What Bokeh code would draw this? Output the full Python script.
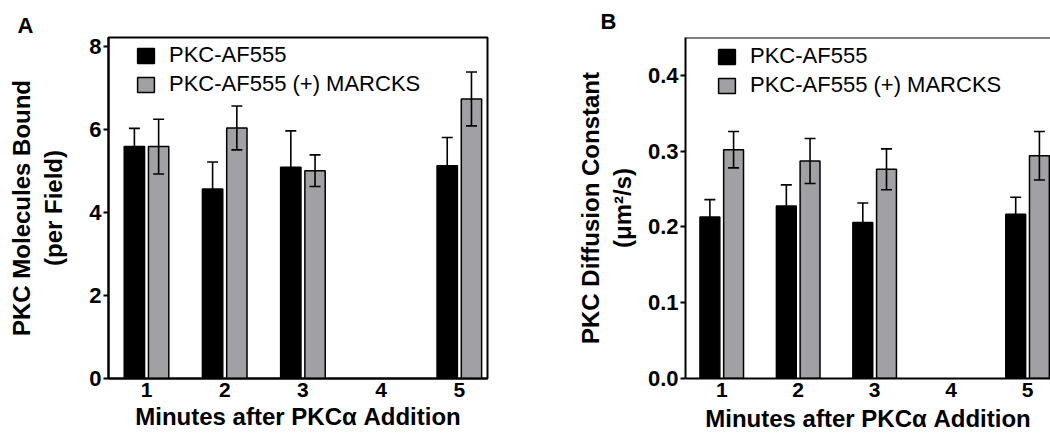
from bokeh.plotting import figure
from bokeh.models import (ColumnDataSource, Whisker, FixedTicker, Legend, LegendItem,
                          Span, Range1d, TeeHead)
from bokeh.layouts import row
from bokeh.transform import dodge
from bokeh.embed import file_html
from bokeh.resources import INLINE

# ---------------- data ----------------
minutes = [1, 2, 3, 5]
x_ticks = [1, 2, 3, 4, 5]
x_tick_labels = ["1", "2", "3", "4", "5"]
series_names = ["PKC-AF555", "PKC-AF555 (+) MARCKS"]
x_title = "Minutes after PKC\u03b1 Addition"

bound_pkc = [5.59, 4.57, 5.09, 5.13]
bound_pkc_err = [0.44, 0.65, 0.88, 0.68]
bound_marcks = [5.59, 6.04, 5.01, 6.74]
bound_marcks_err = [0.66, 0.53, 0.38, 0.65]
bound_ticks = [0, 2, 4, 6, 8]
bound_tick_labels = ["0", "2", "4", "6", "8"]
bound_title = "PKC Molecules Bound\n(per Field)"

diff_pkc = [0.213, 0.2275, 0.206, 0.2166]
diff_pkc_err = [0.023, 0.028, 0.0255, 0.0225]
diff_marcks = [0.302, 0.287, 0.276, 0.294]
diff_marcks_err = [0.024, 0.0297, 0.027, 0.032]
diff_ticks = [0, 0.1, 0.2, 0.3, 0.4]
diff_tick_labels = ["0.0", "0.1", "0.2", "0.3", "0.4"]
diff_title = "PKC Diffusion Constant\n(\u03bcm\u00b2/s)"

FONT = "Liberation Sans"
GRAY = "#a0a0a5"
HEIGHT = 441


def make_panel(letter, pkc, pkc_err, mar, mar_err, yticks, ytick_labels, ytitle,
               xr, yr, width, mbl, mbr, mbt, mbb, legend_loc, letter_offset,
               letter_standoff, full_box, ylabel_standoff, xlabel_standoff):
    src = ColumnDataSource(dict(
        x=minutes, pkc=pkc, mar=mar,
        pkc_hi=[v + e for v, e in zip(pkc, pkc_err)],
        pkc_lo=[v - e for v, e in zip(pkc, pkc_err)],
        mar_hi=[v + e for v, e in zip(mar, mar_err)],
        mar_lo=[v - e for v, e in zip(mar, mar_err)],
    ))
    p = figure(width=width, height=HEIGHT, output_backend="svg", toolbar_location=None,
               x_range=Range1d(*xr), y_range=Range1d(*yr),
               min_border_left=mbl, min_border_right=mbr,
               min_border_top=mbt, min_border_bottom=mbb, title=letter)
    p.title.align = "left"
    p.title.offset = letter_offset
    p.title.standoff = letter_standoff
    p.title.text_font = FONT
    p.title.text_font_style = "bold"
    p.title.text_font_size = "22px"
    p.title.text_color = "black"

    p.xgrid.visible = False
    p.ygrid.visible = False
    p.background_fill_color = "white"
    p.border_fill_color = "white"
    if full_box:
        p.outline_line_color = "black"
        p.outline_line_width = 2
        p.outline_line_alpha = 1
    else:
        p.outline_line_color = None
        p.add_layout(Span(location=yr[1], dimension="width", line_color="black",
                          line_width=2))

    r1 = p.vbar(x=dodge("x", -0.155, range=p.x_range), top="pkc", width=0.26,
                fill_color="black", line_color="black", line_width=1.5, source=src)
    r2 = p.vbar(x=dodge("x", 0.155, range=p.x_range), top="mar", width=0.26,
                fill_color=GRAY, line_color="black", line_width=1.5, source=src)

    for off, hi, lo in [(-0.155, "pkc_hi", "pkc_lo"), (0.155, "mar_hi", "mar_lo")]:
        w = Whisker(base=dodge("x", off, range=p.x_range), upper=hi, lower=lo,
                    source=src, line_color="black", line_width=1.6, level="overlay",
                    upper_head=TeeHead(size=11, line_width=1.6, line_color="black"),
                    lower_head=TeeHead(size=11, line_width=1.6, line_color="black"))
        p.add_layout(w)

    xa = p.xaxis[0]
    xa.ticker = FixedTicker(ticks=x_ticks)
    xa.major_label_overrides = {t: l for t, l in zip(x_ticks, x_tick_labels)}
    xa.axis_line_width = 2
    xa.axis_line_color = "black"
    xa.major_tick_line_color = None
    xa.major_tick_out = 0
    xa.major_tick_in = 0
    xa.minor_tick_line_color = None
    xa.minor_tick_out = 0
    xa.major_label_text_font = FONT
    xa.major_label_text_font_style = "bold"
    xa.major_label_text_font_size = "21px"
    xa.major_label_text_color = "black"
    xa.major_label_standoff = 4
    xa.axis_label = x_title
    xa.axis_label_text_font = FONT
    xa.axis_label_text_font_style = "bold"
    xa.axis_label_text_font_size = "24px"
    xa.axis_label_text_color = "black"
    xa.axis_label_standoff = xlabel_standoff

    ya = p.yaxis[0]
    ya.ticker = FixedTicker(ticks=yticks)
    ya.major_label_overrides = {t: l for t, l in zip(yticks, ytick_labels)}
    ya.axis_line_width = 2
    ya.axis_line_color = "black"
    ya.major_tick_out = 5
    ya.major_tick_in = 0
    ya.major_tick_line_width = 2
    ya.major_tick_line_color = "black"
    ya.minor_tick_line_color = None
    ya.minor_tick_out = 0
    ya.major_label_text_font = FONT
    ya.major_label_text_font_style = "bold"
    ya.major_label_text_font_size = "22px"
    ya.major_label_text_color = "black"
    ya.major_label_standoff = 2
    ya.axis_label = ytitle
    ya.axis_label_text_font = FONT
    ya.axis_label_text_font_style = "bold"
    ya.axis_label_text_font_size = "24px"
    ya.axis_label_text_color = "black"
    ya.axis_label_standoff = ylabel_standoff

    legend = Legend(items=[LegendItem(label=series_names[0], renderers=[r1]),
                           LegendItem(label=series_names[1], renderers=[r2])],
                    location=legend_loc, orientation="vertical", padding=0, margin=0,
                    spacing=3, glyph_width=21, glyph_height=19, label_height=19,
                    label_standoff=13, label_text_font=FONT,
                    label_text_font_size="22px", label_text_color="black",
                    border_line_color=None, background_fill_alpha=0)
    p.add_layout(legend)
    return p


pA = make_panel("A", bound_pkc, bound_pkc_err, bound_marcks, bound_marcks_err,
                bound_ticks, bound_tick_labels, bound_title,
                (0.514, 5.36), (0, 8.22), 540, 108, 53, 37, 61,
                (27, 281), -91, 0, True, 19, 3)
pB = make_panel("B", diff_pkc, diff_pkc_err, diff_marcks, diff_marcks_err,
                diff_ticks, diff_tick_labels, diff_title,
                (0.526, 5.30), (0, 0.45), 510, 145, 0, 36, 63,
                (31, 280), -85, 8, False, 9, 5)

layout = row(pA, pB)
open("out.html", "w").write(file_html(layout, INLINE))
